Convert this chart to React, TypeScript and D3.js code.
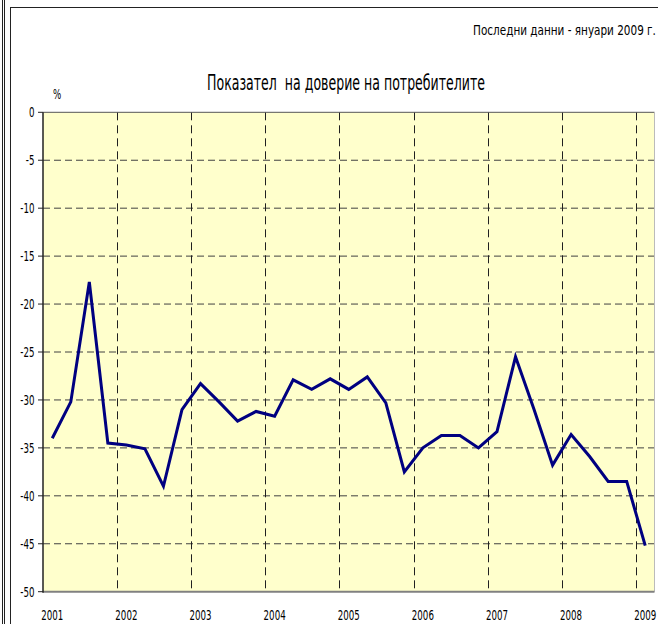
import * as d3 from "d3";
import React, { useEffect, useRef } from "react";

// quarterly periods, last point is January 2009
const periods = [
  "2001-I", "2001-II", "2001-III", "2001-IV",
  "2002-I", "2002-II", "2002-III", "2002-IV",
  "2003-I", "2003-II", "2003-III", "2003-IV",
  "2004-I", "2004-II", "2004-III", "2004-IV",
  "2005-I", "2005-II", "2005-III", "2005-IV",
  "2006-I", "2006-II", "2006-III", "2006-IV",
  "2007-I", "2007-II", "2007-III", "2007-IV",
  "2008-I", "2008-II", "2008-III", "2008-IV",
  "2009-I",
];

const confidence = [
  -34.0, -30.2, -17.7, -34.5,
  -34.7, -35.1, -39.0, -31.0,
  -28.3, -30.2, -32.2, -31.2,
  -31.7, -27.9, -28.9, -27.8,
  -28.9, -27.6, -30.3, -37.5,
  -35.0, -33.7, -33.7, -35.0,
  -33.3, -25.5, -31.0, -36.8,
  -33.6, -35.9, -38.5, -38.5,
  -45.2,
];

const yearLabels = ["2001", "2002", "2003", "2004", "2005", "2006", "2007", "2008", "2009"];
const yTicks = [0, -5, -10, -15, -20, -25, -30, -35, -40, -45, -50];

const title = "Показател  на доверие на потребителите";
const note = "Последни данни - януари 2009 г.";

const FONT = "'DejaVu Sans', Verdana, sans-serif";

const App = () => {
  const ref = useRef<SVGSVGElement>(null);

  useEffect(() => {
    const svg = d3.select(ref.current);
    svg.selectAll("*").remove();

    const left = 43, right = 654.5, top = 112.3, bottom = 591.7;

    const x = d3.scaleBand().domain(periods).range([left, right]).padding(0);
    const y = d3.scaleLinear().domain([-50, 0]).range([bottom, top]);

    // frame lines
    svg.append("line").attr("x1", 2.5).attr("x2", 2.5).attr("y1", 0).attr("y2", 624)
      .attr("stroke", "#222").attr("stroke-width", 1);
    svg.append("line").attr("x1", 4.5).attr("x2", 4.5).attr("y1", 0).attr("y2", 624)
      .attr("stroke", "#222").attr("stroke-width", 1);
    svg.append("line").attr("x1", 10.5).attr("x2", 10.5).attr("y1", 7).attr("y2", 624)
      .attr("stroke", "#222").attr("stroke-width", 1);
    svg.append("line").attr("x1", 10).attr("x2", 658).attr("y1", 7.5).attr("y2", 7.5)
      .attr("stroke", "#222").attr("stroke-width", 1);

    // plot area
    svg.append("rect")
      .attr("x", left).attr("y", top)
      .attr("width", right - left).attr("height", bottom - top)
      .attr("fill", "#FFFFCC");

    // horizontal grid
    svg.append("g")
      .selectAll("line")
      .data(yTicks.filter((t) => t !== 0 && t !== -50))
      .enter()
      .append("line")
      .attr("x1", left).attr("x2", right)
      .attr("y1", (d) => y(d)).attr("y2", (d) => y(d))
      .attr("stroke", "#404040").attr("stroke-width", 1)
      .attr("stroke-dasharray", "7,4");

    // vertical grid at start of each year
    const yearStarts = periods.filter((p, i) => p.endsWith("-I") && i > 0);
    svg.append("g")
      .selectAll("line")
      .data(yearStarts)
      .enter()
      .append("line")
      .attr("x1", (d) => Math.round(x(d)!) + 0.5).attr("x2", (d) => Math.round(x(d)!) + 0.5)
      .attr("y1", top).attr("y2", bottom)
      .attr("stroke", "#202020").attr("stroke-width", 1)
      .attr("stroke-dasharray", "8,5");

    // plot borders
    svg.append("line").attr("x1", left).attr("x2", right).attr("y1", top).attr("y2", top)
      .attr("stroke", "#555").attr("stroke-width", 1);
    svg.append("line").attr("x1", right).attr("x2", right).attr("y1", top).attr("y2", bottom)
      .attr("stroke", "#bbb").attr("stroke-width", 1);
    svg.append("line").attr("x1", left).attr("x2", right).attr("y1", bottom).attr("y2", bottom)
      .attr("stroke", "#808080").attr("stroke-width", 2);
    svg.append("line").attr("x1", left).attr("x2", left).attr("y1", top).attr("y2", bottom + 1)
      .attr("stroke", "#222").attr("stroke-width", 1.5);

    // y ticks and labels
    const yAxis = svg.append("g");
    yAxis.selectAll("line")
      .data(yTicks)
      .enter()
      .append("line")
      .attr("x1", 38).attr("x2", left)
      .attr("y1", (d) => y(d)).attr("y2", (d) => y(d))
      .attr("stroke", "#222").attr("stroke-width", 1);
    yAxis.selectAll("text")
      .data(yTicks)
      .enter()
      .append("text")
      .attr("transform", (d) => `translate(34.5,${y(d) + 5}) scale(0.62,1)`)
      .attr("text-anchor", "end")
      .style("font-family", FONT)
      .style("font-size", "14px")
      .attr("fill", "#000")
      .text((d) => d);

    // x labels under the first quarter of each year
    svg.append("g")
      .selectAll("text")
      .data(yearLabels)
      .enter()
      .append("text")
      .attr("transform", (d) => `translate(${x(d + "-I")! + x.bandwidth() / 2},620) scale(0.62,1)`)
      .attr("text-anchor", "middle")
      .style("font-family", FONT)
      .style("font-size", "14px")
      .attr("fill", "#000")
      .text((d) => d);

    // line
    const line = d3.line<number>()
      .x((d, i) => x(periods[i])! + x.bandwidth() / 2)
      .y((d) => y(d));

    svg.append("path")
      .datum(confidence)
      .attr("d", line)
      .attr("fill", "none")
      .attr("stroke", "#000080")
      .attr("stroke-width", 3)
      .attr("stroke-linejoin", "miter");

    // texts
    svg.append("text")
      .attr("transform", "translate(57,99) scale(0.62,1)")
      .attr("text-anchor", "middle")
      .style("font-family", FONT)
      .style("font-size", "14px")
      .attr("fill", "#000")
      .text("%");

    // narrow text: squeeze horizontally to the width seen in the chart
    const squeezed = (str: string, size: number, cx: number, by: number, width: number) => {
      const t = svg.append("text")
        .attr("text-anchor", "middle")
        .style("font-family", FONT)
        .style("font-size", size + "px")
        .style("white-space", "pre")
        .attr("fill", "#000")
        .text(str);
      const w = (t.node() as SVGTextElement).getComputedTextLength() || width;
      t.attr("transform", `translate(${cx},${by}) scale(${width / w},1)`);
    };

    squeezed(title, 21, 346, 90, 278);
    squeezed(note, 14, 564.5, 35, 183);
  }, []);

  return (
    <svg
      ref={ref}
      width={658}
      height={624}
      style={{ position: "absolute", left: 0, top: 0, background: "#fff" }}
    />
  );
};

export default App;
